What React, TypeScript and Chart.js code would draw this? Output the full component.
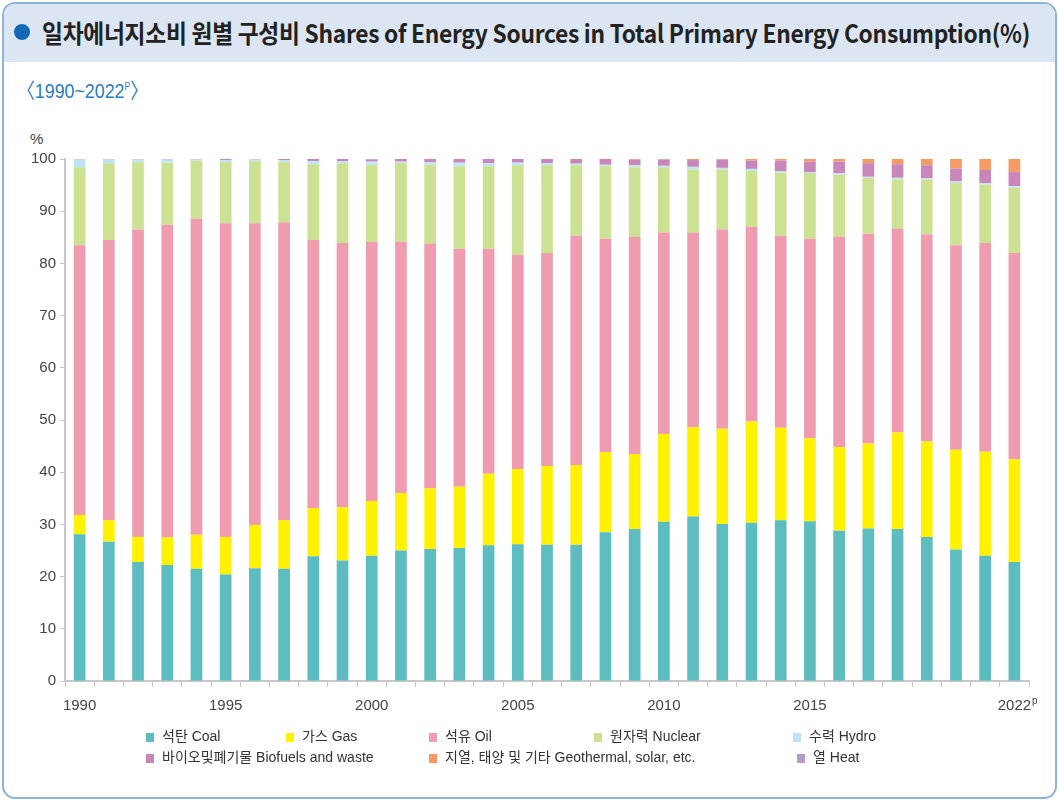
import React, { useEffect, useLayoutEffect, useRef } from "react";
import { Chart, registerables } from "chart.js";

Chart.register(...registerables);

const years = [
  "1990", "1991", "1992", "1993", "1994", "1995", "1996", "1997", "1998", "1999",
  "2000", "2001", "2002", "2003", "2004", "2005", "2006", "2007", "2008", "2009",
  "2010", "2011", "2012", "2013", "2014", "2015", "2016", "2017", "2018", "2019",
  "2020", "2021", "2022",
];

const coal = [28.1, 26.7, 22.8, 22.2, 21.5, 20.4, 21.6, 21.5, 23.9, 23.1, 24.0, 25.0, 25.3, 25.5, 26.0, 26.2, 26.1, 26.1, 28.5, 29.1, 30.5, 31.5, 30.1, 30.3, 30.8, 30.6, 28.8, 29.2, 29.1, 27.6, 25.2, 24.0, 22.8];
const gas = [3.7, 4.1, 4.8, 5.3, 6.5, 7.2, 8.3, 9.3, 9.2, 10.2, 10.5, 11.0, 11.6, 11.7, 13.7, 14.4, 15.1, 15.3, 15.3, 14.4, 16.8, 17.1, 18.2, 19.4, 17.7, 15.9, 16.0, 16.3, 18.5, 18.3, 19.1, 19.9, 19.7];
const oil = [51.7, 53.7, 58.9, 59.9, 60.5, 60.1, 57.8, 57.1, 51.4, 50.6, 49.6, 48.1, 46.9, 45.6, 43.1, 41.0, 40.8, 43.9, 40.9, 41.6, 38.6, 37.3, 38.2, 37.3, 36.8, 38.2, 40.3, 40.2, 39.0, 39.7, 39.2, 40.0, 39.5];
const nuclear = [14.9, 14.7, 12.9, 11.9, 11.2, 11.7, 11.9, 11.5, 14.5, 15.3, 14.8, 15.1, 15.1, 15.8, 15.8, 17.2, 16.8, 13.5, 13.9, 13.3, 12.5, 12.1, 11.5, 10.7, 12.1, 12.6, 11.9, 10.7, 9.5, 10.5, 11.9, 11.2, 12.5];
const hydro = [1.5, 0.7, 0.5, 0.6, 0.2, 0.4, 0.3, 0.4, 0.6, 0.4, 0.6, 0.3, 0.5, 0.7, 0.6, 0.5, 0.4, 0.3, 0.3, 0.4, 0.3, 0.5, 0.3, 0.4, 0.3, 0.2, 0.3, 0.2, 0.3, 0.2, 0.3, 0.3, 0.3];
const biofuels = [0.1, 0.1, 0.1, 0.1, 0.1, 0.2, 0.1, 0.2, 0.4, 0.4, 0.4, 0.5, 0.6, 0.7, 0.8, 0.7, 0.8, 0.9, 1.1, 1.1, 1.2, 1.3, 1.6, 1.6, 2.0, 2.0, 2.2, 2.6, 2.6, 2.5, 2.5, 2.5, 2.7];
const geothermal = [0, 0, 0, 0, 0, 0, 0, 0, 0, 0, 0, 0, 0, 0, 0, 0, 0, 0, 0, 0.1, 0.1, 0.2, 0.2, 0.3, 0.3, 0.5, 0.5, 0.8, 1.0, 1.2, 1.8, 2.1, 2.5];
const heat = [0, 0, 0, 0, 0, 0, 0, 0, 0, 0, 0.1, 0.1, 0.1, 0.1, 0.1, 0.1, 0.1, 0.1, 0.1, 0.1, 0.1, 0.1, 0.1, 0.1, 0.1, 0.1, 0.1, 0.1, 0.1, 0.1, 0.1, 0.1, 0.1];

const yTicks = [0, 10, 20, 30, 40, 50, 60, 70, 80, 90, 100];
const shownYears = ["1990", "1995", "2000", "2005", "2010", "2015", "2022"];

const seriesNames = [
  "석탄 Coal",
  "가스 Gas",
  "석유 Oil",
  "원자력 Nuclear",
  "수력 Hydro",
  "바이오및폐기물 Biofuels and waste",
  "지열, 태양 및 기타 Geothermal, solar, etc.",
  "열 Heat",
];
const seriesColors = ["#5dbcbf", "#fff200", "#f09cb0", "#cde193", "#bfe4f8", "#c886ba", "#f49b64", "#b49cc9"];
const seriesData = [coal, gas, oil, nuclear, hydro, biofuels, geothermal, heat];

// legend placement (box left x, row)
const legendPos = [
  [146, 0], [286, 0], [429, 0], [594, 0], [793, 0],
  [146, 1], [429, 1], [797, 1],
];

const FONT = "'Liberation Sans', 'Noto Sans CJK KR', sans-serif";

const supPlugin = {
  id: "supP",
  afterDraw(chart: any) {
    const xs = chart.scales.x;
    const i = years.length - 1;
    const x = xs.getPixelForTick(i);
    const ctx = chart.ctx;
    ctx.save();
    ctx.font = `15px ${FONT}`;
    const w = ctx.measureText("2022").width;
    ctx.font = `10px ${FONT}`;
    ctx.fillStyle = "#444";
    ctx.textBaseline = "top";
    ctx.textAlign = "left";
    ctx.fillText("p", x + w / 2 + 1, xs.top + 15);
    ctx.restore();
  },
};

export default function App() {
  const canvasRef = useRef<HTMLCanvasElement>(null);
  const titleRef = useRef<HTMLSpanElement>(null);
  const subRef = useRef<HTMLSpanElement>(null);

  useLayoutEffect(() => {
    const fit = (el: HTMLElement | null, target: number) => {
      if (!el) return;
      el.style.transform = "none";
      const w = el.getBoundingClientRect().width;
      if (w > 0) el.style.transform = `scaleX(${target / w})`;
    };
    const run = () => {
      fit(titleRef.current, 988);
      fit(subRef.current, 131);
    };
    run();
    if ((document as any).fonts && (document as any).fonts.ready) {
      (document as any).fonts.ready.then(run);
    }
  }, []);

  useEffect(() => {
    if (!canvasRef.current) return;
    const chart = new Chart(canvasRef.current, {
      type: "bar",
      data: {
        labels: years,
        datasets: seriesData.map((d, i) => ({
          label: seriesNames[i],
          data: d,
          backgroundColor: seriesColors[i],
          borderWidth: 0,
          categoryPercentage: 1,
          barPercentage: 0.4,
        })),
      },
      options: {
        responsive: false,
        animation: false,
        devicePixelRatio: 1,
        layout: { padding: { top: 159, left: 0, right: 30, bottom: 80 } },
        plugins: {
          legend: { display: false },
          tooltip: { enabled: false },
          title: { display: false },
        },
        scales: {
          x: {
            stacked: true,
            offset: true,
            grid: {
              display: true,
              drawOnChartArea: false,
              drawTicks: true,
              tickLength: 6,
              color: "#c8c8c8",
              offset: true,
            },
            border: { display: true, color: "#c8c8c8", width: 2 },
            ticks: {
              autoSkip: false,
              maxRotation: 0,
              minRotation: 0,
              padding: 10,
              color: "#444",
              font: { family: FONT, size: 15 },
              callback: (_v: any, idx: number) => (shownYears.includes(years[idx]) ? years[idx] : ""),
            },
            afterFit: (scale: any) => {
              scale.height = 40;
            },
          },
          y: {
            stacked: true,
            min: yTicks[0],
            max: yTicks[yTicks.length - 1],
            grid: {
              display: true,
              drawOnChartArea: false,
              drawTicks: true,
              tickLength: 5,
              color: "#c8c8c8",
            },
            border: { display: true, color: "#c8c8c8", width: 2 },
            ticks: {
              stepSize: 10,
              padding: 4,
              color: "#444",
              font: { family: FONT, size: 15 },
            },
            afterFit: (scale: any) => {
              scale.width = 65;
            },
          },
        },
      },
      plugins: [supPlugin],
    } as any);
    return () => chart.destroy();
  }, []);

  return (
    <div
      style={{
        position: "fixed",
        left: 0,
        top: 0,
        width: 1059,
        height: 801,
        background: "#fff",
        overflow: "hidden",
        fontFamily: FONT,
      }}
    >
      <div
        style={{
          position: "absolute",
          left: 2,
          top: 2,
          width: 1055,
          height: 797,
          boxSizing: "border-box",
          border: "2.5px solid #8fb3da",
          borderRadius: 13,
          overflow: "hidden",
          background: "#fff",
        }}
      >
        <div style={{ position: "absolute", left: 0, top: 0, right: 0, height: 58, background: "#dce6f2" }} />
      </div>
      <div
        style={{
          position: "absolute",
          left: 14,
          top: 24,
          width: 16,
          height: 16,
          borderRadius: "50%",
          background: "#1469b4",
        }}
      />
      <div style={{ position: "absolute", left: 42, top: 14, height: 36, lineHeight: "36px", whiteSpace: "nowrap" }}>
        <span
          ref={titleRef}
          style={{
            display: "inline-block",
            transformOrigin: "left center",
            fontFamily: "'Noto Sans CJK KR', 'Liberation Sans', sans-serif",
            fontWeight: 700,
            fontSize: 25,
            color: "#222",
            letterSpacing: -0.3,
          }}
        >
          일차에너지소비 원별 구성비 Shares of Energy Sources in Total Primary Energy Consumption(%)
        </span>
      </div>
      <div style={{ position: "absolute", left: 17, top: 76, height: 30, lineHeight: "30px", whiteSpace: "nowrap" }}>
        <span
          ref={subRef}
          style={{
            display: "inline-block",
            transformOrigin: "left center",
            fontFamily: FONT,
            fontSize: 21,
            color: "#2a7cc0",
          }}
        >
          〈1990~2022<sup style={{ fontSize: 10, verticalAlign: "top", position: "relative", top: -4 }}>P</sup>〉
        </span>
      </div>
      <div
        style={{
          position: "absolute",
          left: 30,
          top: 130,
          fontSize: 15,
          color: "#444",
          lineHeight: "18px",
        }}
      >
        %
      </div>
      <canvas
        ref={canvasRef}
        width={1059}
        height={801}
        style={{ position: "absolute", left: 0, top: 0, width: 1059, height: 801 }}
      />
      {seriesNames.map((n, i) => (
        <div
          key={n}
          style={{
            position: "absolute",
            left: legendPos[i][0],
            top: 727 + legendPos[i][1] * 21,
            height: 18,
            lineHeight: "18px",
            whiteSpace: "nowrap",
            fontSize: 14,
            color: "#333",
            fontFamily: FONT,
          }}
        >
          <span
            style={{
              display: "inline-block",
              width: 8,
              height: 9,
              background: seriesColors[i],
              marginRight: 8,
              verticalAlign: "-1px",
            }}
          />
          {n}
        </div>
      ))}
    </div>
  );
}
